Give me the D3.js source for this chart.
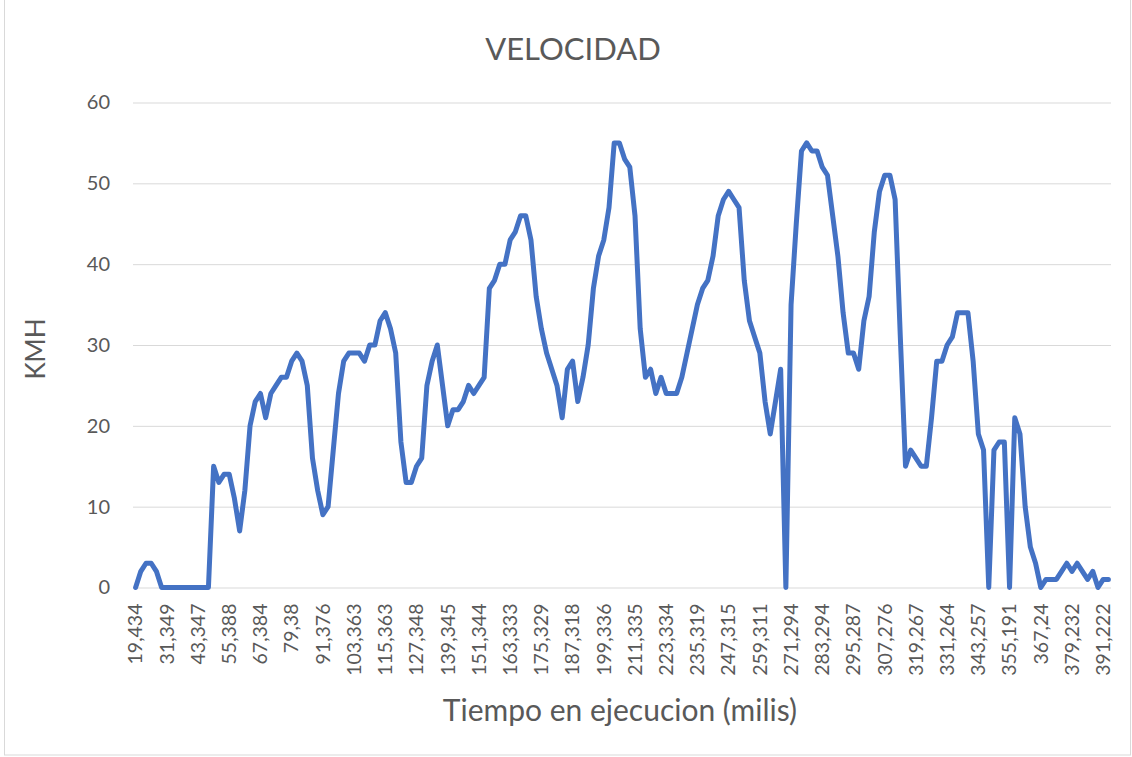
<!DOCTYPE html>
<html>
<head>
<meta charset="utf-8">
<script src="https://cdn.jsdelivr.net/npm/d3@7"></script>
<style>
  html, body { margin: 0; padding: 0; background: #ffffff; }
  svg { display: block; }
  text { font-family: Lato, "Open Sans", sans-serif; fill: #595959; }
</style>
</head>
<body>
<svg id="chart" width="1132" height="757"></svg>
<script>
// Speed (km/h) sampled roughly every 2 s
const velocidad = [
  0, 2, 3, 3, 2, 0, 0, 0, 0, 0, 0, 0, 0, 0, 0, 15, 13, 14, 14, 11,
  7, 12, 20, 23, 24, 21, 24, 25, 26, 26, 28, 29, 28, 25, 16, 12, 9, 10, 17, 24,
  28, 29, 29, 29, 28, 30, 30, 33, 34, 32, 29, 18, 13, 13, 15, 16, 25, 28, 30, 25,
  20, 22, 22, 23, 25, 24, 25, 26, 37, 38, 40, 40, 43, 44, 46, 46, 43, 36, 32, 29,
  27, 25, 21, 27, 28, 23, 26, 30, 37, 41, 43, 47, 55, 55, 53, 52, 46, 32, 26, 27,
  24, 26, 24, 24, 24, 26, 29, 32, 35, 37, 38, 41, 46, 48, 49, 48, 47, 38, 33, 31,
  29, 23, 19, 23, 27, 0, 35, 45, 54, 55, 54, 54, 52, 51, 46, 41, 34, 29, 29, 27,
  33, 36, 44, 49, 51, 51, 48, 31, 15, 17, 16, 15, 15, 21, 28, 28, 30, 31, 34, 34,
  34, 28, 19, 17, 0, 17, 18, 18, 0, 21, 19, 10, 5, 3, 0, 1, 1, 1, 2, 3,
  2, 3, 2, 1, 2, 0, 1, 1
];

// Category labels shown on the time axis (one every sixth sample)
const tickLabels = [
  "19,434", "31,349", "43,347", "55,388", "67,384", "79,38", "91,376", "103,363",
  "115,363", "127,348", "139,345", "151,344", "163,333", "175,329", "187,318", "199,336",
  "211,335", "223,334", "235,319", "247,315", "259,311", "271,294", "283,294", "295,287",
  "307,276", "319,267", "331,264", "343,257", "355,191", "367,24", "379,232", "391,222"
];
const tickStep = 6;

const yTicks = [0, 10, 20, 30, 40, 50, 60];

const FONT = 'Lato, "Open Sans", sans-serif';
const svg = d3.select("#chart");
const plot = { left: 133, right: 1111, top: 102.5, bottom: 587.5 };

// outer chart frame
svg.append("rect")
  .attr("x", 4.5).attr("y", -1)
  .attr("width", 1126).attr("height", 756)
  .attr("fill", "none").attr("stroke", "#d9d9d9").attr("stroke-width", 1);

const categories = d3.range(velocidad.length);
const x = d3.scaleBand()
  .domain(categories)
  .range([plot.left, plot.right]);
const xc = i => x(i) + x.bandwidth() / 2;

const y = d3.scaleLinear().domain([0, 60]).range([plot.bottom, plot.top]);

// horizontal gridlines and value axis
const yAxis = d3.axisLeft(y).tickValues(yTicks).tickSize(-(plot.right - plot.left)).tickPadding(23);
const gy = svg.append("g")
  .attr("transform", `translate(${plot.left},0)`)
  .call(yAxis);
gy.select(".domain").remove();
gy.selectAll(".tick line").attr("stroke", "#d9d9d9").attr("stroke-width", 1);
gy.selectAll(".tick text")
  .attr("font-size", 20)
  .attr("fill", "#595959")
  .style("font-family", FONT);

// category axis labels, rotated
const labelled = categories.filter(i => i % tickStep === 0);
const xAxis = d3.axisBottom(x)
  .tickValues(labelled)
  .tickSize(0)
  .tickFormat(i => tickLabels[i / tickStep]);
const gx = svg.append("g")
  .attr("transform", `translate(0,${plot.bottom})`)
  .call(xAxis);
gx.select(".domain").remove();
gx.selectAll(".tick text")
  .attr("font-size", 19.5)
  .attr("fill", "#595959")
  .style("font-family", FONT)
  .attr("text-anchor", "end")
  .attr("dy", "0.35em")
  .attr("x", 0)
  .attr("y", 0)
  .attr("transform", "translate(0,16) rotate(-90)");

// speed line
const line = d3.line()
  .x((d, i) => xc(i))
  .y(d => y(d));
svg.append("path")
  .datum(velocidad)
  .attr("fill", "none")
  .attr("stroke", "#4472c4")
  .attr("stroke-width", 5)
  .attr("stroke-linejoin", "round")
  .attr("stroke-linecap", "round")
  .attr("d", line);

// titles
svg.append("text")
  .attr("x", 573).attr("y", 60)
  .attr("text-anchor", "middle")
  .attr("font-size", 31)
  .text("VELOCIDAD");

svg.append("text")
  .attr("transform", `translate(45,349) rotate(-90)`)
  .attr("text-anchor", "middle")
  .attr("font-size", 26)
  .text("KMH");

svg.append("text")
  .attr("x", 620).attr("y", 721)
  .attr("text-anchor", "middle")
  .attr("font-size", 30)
  .text("Tiempo en ejecucion (milis)");
</script>
</body>
</html>
